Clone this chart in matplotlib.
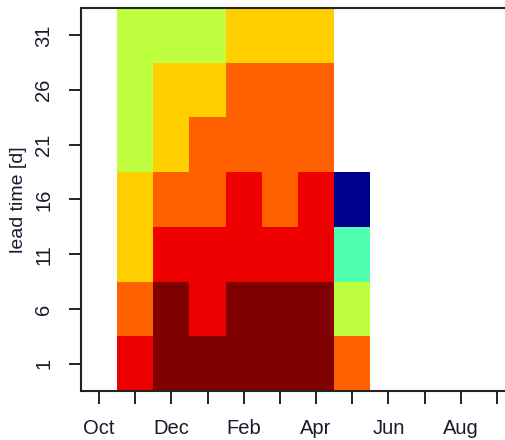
import numpy as np
import matplotlib
matplotlib.use("Agg")
import matplotlib.pyplot as plt
from matplotlib.colors import ListedColormap, BoundaryNorm

# Month axis (Oct .. Sep) and lead times
months = ['Oct', 'Nov', 'Dec', 'Jan', 'Feb', 'Mar', 'Apr',
          'May', 'Jun', 'Jul', 'Aug', 'Sep']
lead_times = [1, 6, 11, 16, 21, 26, 31]

# Category level per cell (rows = lead time, cols = month), nan = no data
# 0 navy, 1 aquamarine, 2 yellowgreen, 3 gold, 4 orange, 5 red, 6 dark red
nan = np.nan
lead_1 = [nan, 5, 6, 6, 6, 6, 6, 4, nan, nan, nan, nan]
lead_6 = [nan, 4, 6, 5, 6, 6, 6, 2, nan, nan, nan, nan]
lead_11 = [nan, 3, 5, 5, 5, 5, 5, 1, nan, nan, nan, nan]
lead_16 = [nan, 3, 4, 4, 5, 4, 5, 0, nan, nan, nan, nan]
lead_21 = [nan, 2, 3, 4, 4, 4, 4, nan, nan, nan, nan, nan]
lead_26 = [nan, 2, 3, 3, 4, 4, 4, nan, nan, nan, nan, nan]
lead_31 = [nan, 2, 2, 2, 3, 3, 3, nan, nan, nan, nan, nan]

level_colors = ['#00008F', '#50FFAF', '#BFFF40', '#FFCF00',
                '#FF6000', '#EF0000', '#800000']

plt.rcParams['font.family'] = ['Liberation Sans', 'DejaVu Sans']

grid = np.array([lead_1, lead_6, lead_11, lead_16, lead_21, lead_26, lead_31])
x = np.arange(len(months))
y = np.array(lead_times)
x_edges = np.append(x - 0.5, x[-1] + 0.5)
y_edges = np.append(y - 2.5, y[-1] + 2.5)

cmap = ListedColormap(level_colors)
norm = BoundaryNorm(np.arange(-0.5, len(level_colors)), cmap.N)

fig = plt.figure(figsize=(5.06, 4.40), dpi=100)
ax = fig.add_axes([81 / 506, 49 / 440, 434 / 506, 383 / 440])

ax.pcolormesh(x_edges, y_edges, np.ma.masked_invalid(grid),
              cmap=cmap, norm=norm, edgecolors='none', antialiased=False)

ax.set_xlim(x_edges[0], x_edges[-1])
ax.set_ylim(y_edges[0], y_edges[-1])

ax.set_xticks(x)
ax.set_xticklabels([m if i % 2 == 0 else '' for i, m in enumerate(months)])
ax.set_yticks(y)
ax.set_yticklabels([str(v) for v in lead_times], rotation=90, va='center')

ax.tick_params(axis='both', direction='out', length=9, width=1.4,
               labelsize=14.5, colors='#222222')
ax.tick_params(axis='x', pad=11)
ax.tick_params(axis='y', pad=11)
for label in ax.get_xticklabels() + ax.get_yticklabels():
    label.set_color('#1a1a2e')

for sp in ax.spines.values():
    sp.set_linewidth(1.5)
    sp.set_color('#222222')

ax.set_ylabel('lead time [d]', fontsize=14, labelpad=5, color='#1a1a2e')

fig.savefig('out.png', dpi=100)
